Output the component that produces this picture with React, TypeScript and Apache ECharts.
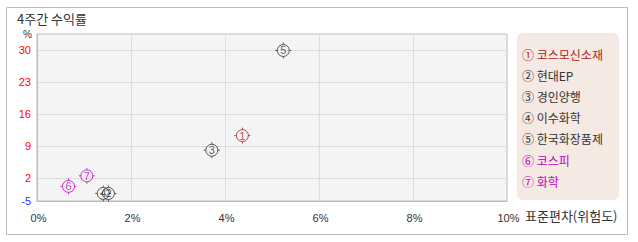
import React, { useEffect, useRef } from "react";
import * as echarts from "echarts";

const names = ["코스모신소재", "현대EP", "경인양행", "이수화학", "한국화장품제", "코스피", "화학"];
const marks = ["①", "②", "③", "④", "⑤", "⑥", "⑦"];
const digits = ["1", "2", "3", "4", "5", "6", "7"];
const risk = [4.37, 1.52, 3.72, 1.41, 5.24, 0.67, 1.06];
const ret = [11.3, -1.35, 8.1, -1.35, 29.9, 0.2, 2.5];
const colors = ["#b01c1c", "#333333", "#333333", "#333333", "#333333", "#c000c0", "#c000c0"];
const yTicks = [-3, 2, 9, 16, 23, 30];
const xTicks = [0, 2, 4, 6, 8, 10];

const SYMBOL = "path://M8 0V2M8 14V16M0 8H2M14 8H16M14 8A6 6 0 1 1 2 8A6 6 0 1 1 14 8Z";
const CJK = "'Noto Sans CJK KR', 'DejaVu Sans', sans-serif";
const NUM = "'Liberation Sans', Arial, sans-serif";

export default function App() {
  const ref = useRef<HTMLDivElement>(null);
  useEffect(() => {
    if (!ref.current) return;
    const chart = echarts.init(ref.current, null, { renderer: "svg" });
    const series = names.map((n, i) => ({
      type: "scatter",
      name: n,
      data: [[risk[i], ret[i]]],
      symbol: SYMBOL,
      symbolSize: 16,
      itemStyle: { color: "rgba(0,0,0,0)", borderColor: colors[i], borderWidth: 1 },
      label: {
        show: true,
        position: "inside",
        formatter: digits[i],
        color: colors[i],
        fontSize: 11,
        fontFamily: NUM,
      },
      emphasis: { disabled: true },
    }));
    const legendItems: any[] = names.map((n, i) => ({
      type: "text",
      left: 522,
      top: 48 + i * 21.2,
      style: { text: marks[i] + " " + n, fill: colors[i], font: `12px ${CJK}` },
    }));
    chart.setOption({
      animation: false,
      backgroundColor: "#ffffff",
      grid: {
        left: 37,
        top: 34,
        right: 131,
        bottom: 41,
        show: true,
        backgroundColor: "#f4f4f4",
        borderColor: "#bbbbbb",
        borderWidth: 1,
      },
      xAxis: {
        type: "value",
        min: 0,
        max: 10,
        interval: 2,
        axisLine: { show: true, onZero: false, lineStyle: { color: "#bbbbbb" } },
        axisTick: { show: false },
        splitLine: { show: true, lineStyle: { color: "#dddddd" } },
        axisLabel: {
          formatter: (v: number) => (xTicks.includes(v) ? v + "%" : ""),
          color: "#333333",
          fontSize: 11,
          fontFamily: NUM,
          margin: 11,
          padding: [0, 0, 0, 3],
        },
      },
      yAxis: {
        type: "value",
        min: -3,
        max: 33.5,
        axisLine: { show: true, onZero: false, lineStyle: { color: "#bbbbbb" } },
        axisTick: { show: false, customValues: yTicks },
        splitLine: { show: true, lineStyle: { color: "#dddddd" } },
        axisLabel: {
          customValues: yTicks,
          formatter: (v: number) => (v === -3 ? "-5" : String(v)),
          color: (v: any) => (Number(v) === -3 ? "#3333ff" : "#ff0000"),
          fontSize: 11,
          fontFamily: NUM,
          margin: 6,
        },
      },
      graphic: [
        {
          type: "rect",
          shape: { x: 6.5, y: 7.5, width: 621, height: 227 },
          style: { fill: "none", stroke: "#bbbbbb", lineWidth: 1 },
          silent: true,
        },
        {
          type: "text",
          left: 17,
          top: 12,
          style: { text: "4주간 수익률", fill: "#333333", font: `13px ${CJK}` },
        },
        {
          type: "text",
          left: 23,
          top: 29,
          style: { text: "%", fill: "#333333", font: `10px ${NUM}` },
        },
        {
          type: "text",
          left: 525,
          top: 209,
          style: { text: "표준편차(위험도)", fill: "#333333", font: `13px ${CJK}` },
        },
        {
          type: "rect",
          shape: { x: 517, y: 33, width: 102, height: 167, r: 6 },
          style: { fill: "#f5e9e3" },
          silent: true,
        },
        ...legendItems,
      ],
      series,
    });
    return () => chart.dispose();
  }, []);
  return <div ref={ref} style={{ width: 638, height: 242, position: "absolute", left: 0, top: 0 }} />;
}
